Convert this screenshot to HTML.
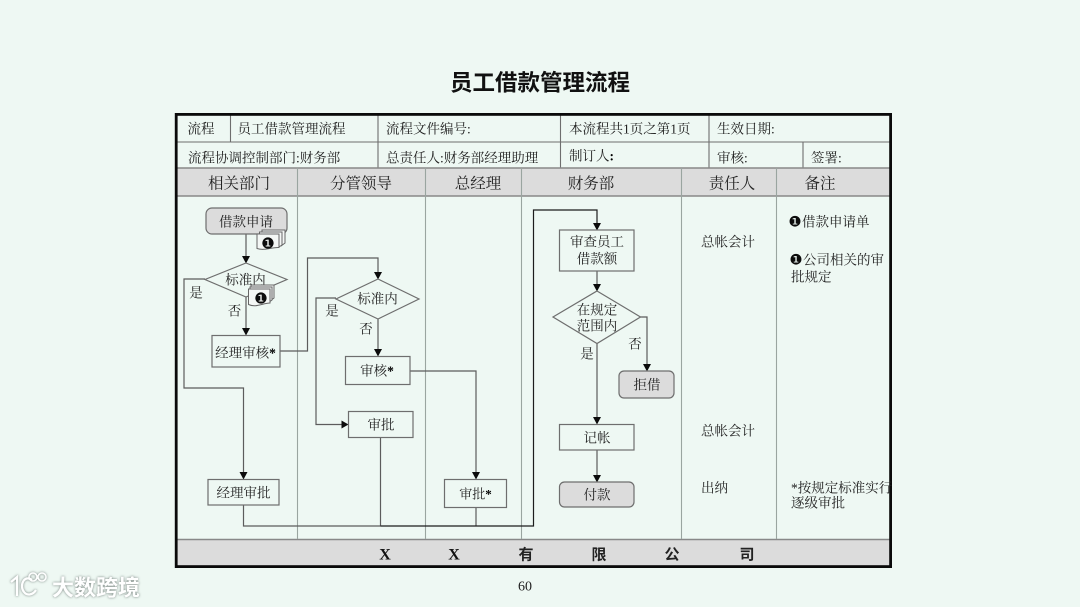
<!DOCTYPE html>
<html lang="zh">
<head>
<meta charset="utf-8">
<style>
html,body{margin:0;padding:0;background:#eef8f3;width:1080px;height:607px;overflow:hidden}
svg{display:block;filter:blur(.35px)}
text{font-family:"Liberation Serif","Noto Serif CJK SC",serif;font-size:13.5px;fill:#222;transform:translateY(.7px)}
.c{text-anchor:middle}
.h{font-size:15.5px;fill:#222}
.b{fill:#eef8f3;stroke:#6e6e6e;stroke-width:1.2}
.g{fill:#dcdcdc;stroke:#6e6e6e;stroke-width:1.2}
.l{fill:none;stroke:#5c5c5c;stroke-width:1.2}
.k{fill:none;stroke:#1c1c1c;stroke-width:1.2}
.a{fill:#0c0c0c}
.s{fill:none;stroke:#9aa5a0;stroke-width:1.1}
.t{fill:none;stroke:#6e6e6e;stroke-width:1.1}
.n{font-family:"DejaVu Sans",sans-serif;font-size:14px;fill:#0c0c0c}
.f{font-weight:bold;font-size:15px;fill:#111}
.fs{font-family:"Liberation Sans","Noto Sans CJK SC",sans-serif;font-weight:bold;font-size:15px;fill:#222}
.st{font-weight:bold;fill:#000}
</style>
</head>
<body>
<svg width="1080" height="607" viewBox="0 0 1080 607" xmlns="http://www.w3.org/2000/svg">
<rect width="1080" height="607" fill="#eef8f3"/>
<text x="540" y="90" class="c" style="font-family:'Liberation Sans','Noto Sans CJK SC',sans-serif;font-size:22.5px;font-weight:bold;fill:#111">员工借款管理流程</text>

<!-- bands -->
<rect x="177" y="168" width="713" height="28" fill="#dcdcdc"/>
<rect x="177" y="539" width="713" height="27" fill="#dcdcdc"/>

<!-- table lines -->
<path class="t" d="M177 142H890M230.500 114V142M378 114V168M560.500 114V168M709 114V168M803 142V168"/>
<path d="M177 168H890M177 196H890M177 539.500H890" fill="none" stroke="#888" stroke-width="1.500"/>
<path class="s" d="M297.500 168V539M425.500 168V539M521.500 168V539M681.500 168V539M776.500 168V539"/>

<!-- outer frame -->
<rect x="176.200" y="114.400" width="714.400" height="452.200" fill="none" stroke="#0a0a0a" stroke-width="2.800"/>

<!-- table text -->
<text x="187.500" y="133">流程</text>
<text x="237.500" y="133">员工借款管理流程</text>
<text x="386" y="133">流程文件编号:</text>
<text x="569" y="133">本流程共1页之第1页</text>
<text x="717" y="133">生效日期:</text>
<text x="188" y="162" style="font-size:13.500px">流程协调控制部门:财务部</text>
<text x="386" y="162" style="font-size:13.500px">总责任人:财务部经理助理</text>
<text x="569" y="160">制订人<tspan class="st">:</tspan></text>
<text x="717" y="162">审核:</text>
<text x="811" y="162">签署:</text>

<text x="239" y="188" class="c h">相关部门</text>
<text x="361" y="188" class="c h">分管领导</text>
<text x="478" y="188" class="c h">总经理</text>
<text x="591" y="188" class="c h">财务部</text>
<text x="732" y="188" class="c h">责任人</text>
<text x="820" y="188" class="c h">备注</text>

<!-- connectors -->
<path class="l" d="M246 234V258"/>
<path class="l" d="M205 279H184V388H243.500V474"/>
<path class="l" d="M246 297V330"/>
<path class="l" d="M280 351H307.500V258H378V274"/>
<path class="l" d="M336 298H316V424.500H344"/>
<path class="l" d="M378 319V351"/>
<path class="l" d="M410 371H476V474"/>
<path class="l" d="M243.500 505V526H380.500"/>
<path class="l" d="M380.500 437.500V526"/>
<path class="l" d="M476 507.500V526"/>
<path class="k" d="M380.500 526H533.500V210H597V225"/>
<path class="l" d="M597 271V286"/>
<path class="l" d="M597 343V419"/>
<path class="l" d="M640 317H647V366"/>
<path class="l" d="M597 450V477"/>

<!-- arrowheads -->
<path class="a" d="M242 256H250L246 263.500Z"/>
<path class="a" d="M242 328H250L246 335.500Z"/>
<path class="a" d="M239.500 472H247.500L243.500 479.500Z"/>
<path class="a" d="M374 272H382L378 279.500Z"/>
<path class="a" d="M374 349H382L378 356.500Z"/>
<path class="a" d="M472 472H480L476 479.500Z"/>
<path class="a" d="M341.500 420.500L348.500 424.500L341.500 428.500Z"/>
<path class="a" d="M593 223H601L597 230.500Z"/>
<path class="a" d="M593 284H601L597 291.500Z"/>
<path class="a" d="M593 417H601L597 424.500Z"/>
<path class="a" d="M593 475H601L597 482.500Z"/>
<path class="a" d="M643 364H651L647 371.500Z"/>

<!-- nodes -->
<rect class="g" x="206" y="208" width="81" height="26" rx="6"/>
<text x="246" y="226" class="c">借款申请</text>

<path class="b" d="M246 263L287 279.500L246 297L205 279.500Z"/>
<text x="245.500" y="284" class="c">标准内</text>

<rect class="b" x="212" y="335.500" width="68" height="31.500"/>
<text x="245.500" y="357" class="c">经理审核<tspan class="st">*</tspan></text>

<rect class="b" x="208" y="479.500" width="71" height="25.500"/>
<text x="243.500" y="497" class="c">经理审批</text>

<path class="b" d="M378 279L419 299L378 319L336 299Z"/>
<text x="377.500" y="303" class="c">标准内</text>

<rect class="b" x="345.500" y="356.500" width="64.500" height="28"/>
<text x="377" y="375" class="c">审核<tspan class="st">*</tspan></text>

<rect class="b" x="348.500" y="411.500" width="64.500" height="26"/>
<text x="381" y="429" class="c">审批</text>

<rect class="b" x="444.500" y="479.500" width="62" height="28"/>
<text x="475.500" y="498" class="c" style="font-size:13px">审批<tspan class="st">*</tspan></text>

<rect class="b" x="559.500" y="230" width="74.500" height="41"/>
<text x="597" y="246" class="c">审查员工</text>
<text x="597" y="263" class="c">借款额</text>

<path class="b" d="M597 291L640.500 317L597 343.500L553 317Z"/>
<text x="597" y="314" class="c">在规定</text>
<text x="597" y="330" class="c">范围内</text>

<rect class="g" x="619" y="371" width="55" height="27" rx="5"/>
<text x="647" y="389" class="c">拒借</text>

<rect class="b" x="559.500" y="424.500" width="74.500" height="25.500"/>
<text x="597" y="442" class="c">记帐</text>

<rect class="g" x="559.500" y="482" width="74.500" height="25" rx="5"/>
<text x="597" y="499" class="c">付款</text>

<!-- document icons -->
<g fill="#f4f7f5" stroke="#666" stroke-width="1">
<path d="M262 230H285V243L281 246H262Z"/>
<path d="M259.500 232H282V245L278 247.500H259.500Z"/>
<path d="M257 234H279V247.500C272 247 265 251 257 248.500Z"/>
<path d="M251 285H274V298L270 301H251Z"/>
<path d="M250 287H272V300L268 303H250Z"/>
<path d="M248.500 289H270V303C263 303 256 308 248.500 304.500Z"/>
</g>
<text x="268" y="248" class="c n" style="font-size:15px">❶</text>
<text x="261" y="303" class="c n" style="font-size:15px">❶</text>

<!-- edge labels -->
<text x="196" y="297" class="c">是</text>
<text x="234.500" y="315" class="c">否</text>
<text x="332" y="315" class="c">是</text>
<text x="366" y="333" class="c">否</text>
<text x="587" y="358" class="c">是</text>
<text x="635" y="348" class="c">否</text>

<!-- responsible -->
<text x="701" y="246">总帐会计</text>
<text x="701" y="435">总帐会计</text>
<text x="701" y="492">出纳</text>

<!-- remarks -->
<text x="788.500" y="226" class="n" style="font-size:14.500px">❶</text>
<text x="802" y="226">借款申请单</text>
<text x="789.500" y="264" class="n" style="font-size:14.500px">❶</text>
<text x="803" y="264">公司相关的审</text>
<text x="791" y="281">批规定</text>
<text x="791" y="492">*按规定标准实行</text>
<text x="791" y="507">逐级审批</text>

<!-- footer -->
<text x="385" y="559" class="c f" style="font-size:16px">X</text>
<text x="454" y="559" class="c f" style="font-size:16px">X</text>
<text x="526" y="559" class="c fs">有</text>
<text x="599" y="559" class="c fs">限</text>
<text x="672" y="559" class="c fs">公</text>
<text x="747" y="559" class="c fs">司</text>

<text x="525" y="590" class="c" style="font-size:14px;fill:#222">60</text>

<!-- watermark -->
<g style="filter:drop-shadow(0 0 1.200px #6f7a76)">
<path d="M11 582L17 577V596M32 580C24 574 19 586 24 592C27 596 33 595 36 590" fill="none" stroke="#fff" stroke-width="2.200"/>
<circle cx="33" cy="577" r="4" fill="none" stroke="#fff" stroke-width="1.600"/>
<circle cx="42" cy="577" r="4" fill="none" stroke="#fff" stroke-width="1.600"/>
<text x="52" y="595" style="font-family:'Liberation Sans','Noto Sans CJK SC',sans-serif;font-size:22px;font-weight:bold;fill:#fff">大数跨境</text>
</g>
</svg>
</body>
</html>
